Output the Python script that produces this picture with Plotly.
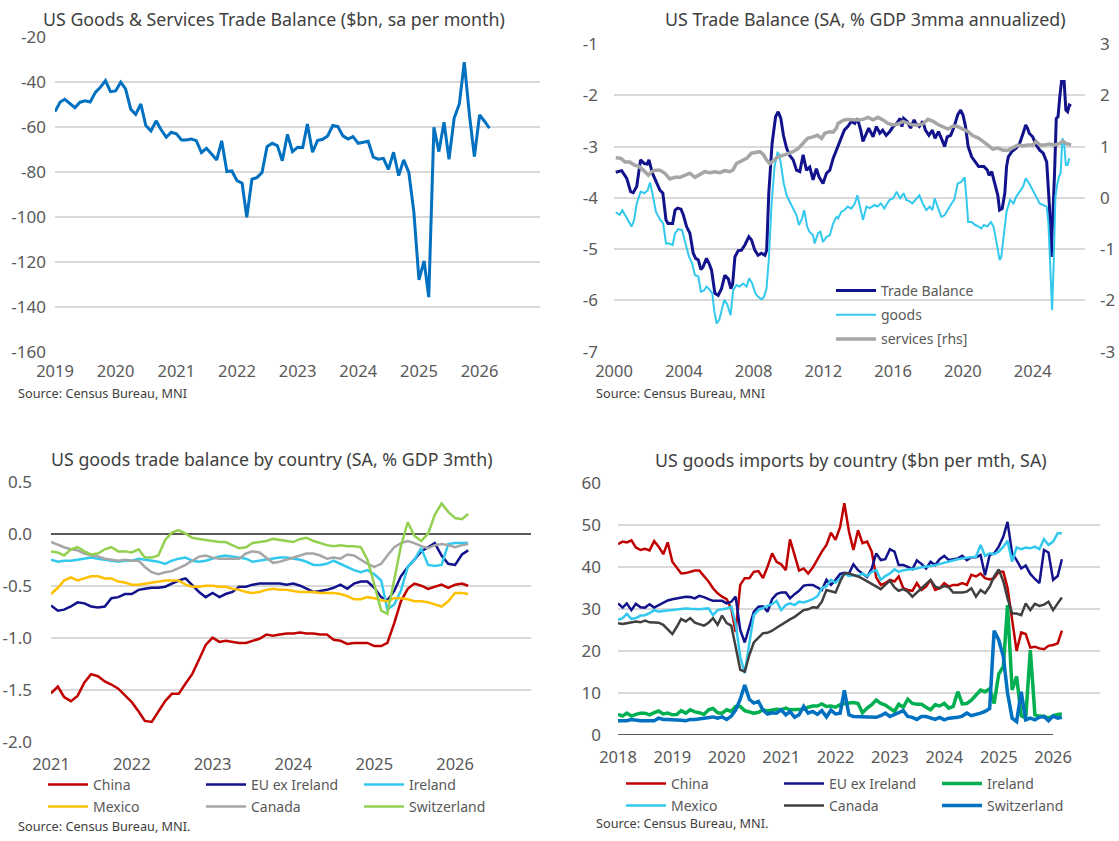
import plotly.graph_objects as go
import pandas as pd

W, H = 1119, 841
FONT = "Noto Sans"
TXT = "#595959"
TITLE_C = "#404040"
GRID = "#D9D9D9"

# ---------------- Panel 1: US goods & services trade balance ($bn) ----------------
p1_start = "2019-01-01"
p1_balance = [
    -53.1, -48.8, -47.6, -49.6, -51.3, -48.9, -48.3, -48.8, -44.5, -42.3,
    -39.3, -44.2, -43.9, -40.0, -43.0, -52.0, -54.3, -49.7, -59.3, -61.7,
    -57.2, -61.2, -64.5, -62.3, -63.0, -65.7, -65.7, -65.3, -66.0, -71.3,
    -69.4, -72.0, -74.6, -66.1, -79.8, -79.5, -83.8, -85.0, -100.1, -83.2,
    -82.5, -80.2, -68.7, -67.2, -68.2, -75.0, -63.2, -70.9, -69.0, -69.1,
    -58.6, -71.2, -66.0, -65.4, -63.9, -59.3, -59.8, -63.9, -65.3, -64.2,
    -67.2, -66.7, -66.3, -73.4, -74.3, -73.9, -78.8, -71.2, -81.6, -74.6,
    -80.2, -97.6, -128.0, -119.6, -135.7, -60.1, -70.9, -57.8, -74.3, -56.0,
    -49.7, -31.1, -54.6, -73.1, -54.6, -57.5, -60.5]
p1_yticks = [-160, -140, -120, -100, -80, -60, -40, -20]

# ---------------- Panel 2: trade balance % GDP (years since 2000, value) ----------------
tb_years = [0.1, 0.44, 0.73, 0.95, 1.1, 1.3, 1.52, 1.74, 1.9, 2.0, 2.2, 2.44, 2.63, 2.8, 2.98, 3.1,
            3.36, 3.5, 3.65, 3.84, 3.97, 4.16, 4.35, 4.54, 4.68, 4.83, 4.98, 5.1, 5.3, 5.45, 5.59,
            5.78, 5.97, 6.16, 6.35, 6.55, 6.7, 6.8, 6.93, 7.12, 7.31, 7.5, 7.73, 7.88, 8.07, 8.26,
            8.45, 8.65, 8.75, 8.87, 9.06, 9.26, 9.41, 9.56, 9.71, 9.89, 10.08, 10.27, 10.46, 10.65,
            10.84, 11.03, 11.22, 11.41, 11.6, 11.75, 11.98, 12.18, 12.37, 12.56, 12.75, 12.84, 13.03,
            13.2, 13.4, 13.6, 13.8, 13.95, 14.14, 14.27, 14.47, 14.6, 14.85, 15.04, 15.24, 15.4, 15.6,
            15.8, 16.0, 16.2, 16.4, 16.5, 16.6, 16.8, 17.0, 17.2, 17.3, 17.5, 17.7, 17.85, 18.05,
            18.25, 18.4, 18.6, 18.8, 18.95, 19.1, 19.3, 19.5, 19.7, 19.87, 20.0, 20.15, 20.3, 20.5,
            20.7, 20.9, 21.2, 21.4, 21.5, 21.65, 21.77, 21.9, 22.0, 22.1, 22.25, 22.4, 22.5, 22.6,
            22.8, 23.05, 23.25, 23.45, 23.6, 23.7, 23.8, 24.0, 24.2, 24.4, 24.6, 24.8, 24.96, 25.06,
            25.15, 25.25, 25.35, 25.45, 25.55, 25.65, 25.8, 25.9, 26.0, 26.1, 26.2]
tb_values = [-3.50, -3.47, -3.62, -3.88, -3.90, -3.78, -3.26, -3.33, -3.34, -3.26, -3.52, -3.72,
             -3.85, -3.91, -4.43, -4.50, -4.50, -4.24, -4.20, -4.22, -4.33, -4.56, -4.69, -5.08,
             -5.18, -5.21, -5.40, -5.35, -5.18, -5.28, -5.41, -5.86, -5.90, -5.77, -5.51, -5.58,
             -5.77, -5.68, -5.15, -5.03, -5.02, -4.92, -4.76, -4.82, -5.02, -5.12, -5.08, -5.12,
             -5.02, -3.91, -2.94, -2.42, -2.32, -2.45, -2.78, -3.03, -3.18, -3.26, -3.46, -3.49,
             -3.16, -3.46, -3.40, -3.65, -3.43, -3.59, -3.72, -3.52, -3.46, -3.23, -3.07, -2.97,
             -2.81, -2.68, -2.61, -2.51, -2.55, -2.45, -2.68, -2.90, -2.74, -2.64, -2.81, -2.61,
             -2.74, -2.68, -2.78, -2.71, -2.61, -2.55, -2.45, -2.61, -2.45, -2.51, -2.64, -2.48,
             -2.55, -2.61, -2.51, -2.68, -2.78, -2.68, -2.84, -2.71, -2.87, -3.00, -2.81, -2.78,
             -2.61, -2.38, -2.29, -2.38, -2.61, -3.00, -3.20, -3.30, -3.39, -3.39, -3.46, -3.56,
             -3.49, -3.65, -3.85, -3.95, -4.24, -4.21, -3.91, -3.39, -3.20, -3.10, -3.03, -2.94,
             -2.74, -2.58, -2.64, -2.74, -2.81, -2.97, -3.07, -3.13, -3.30, -4.18, -5.15, -4.50,
             -3.52, -2.45, -2.42, -2.03, -1.73, -1.73, -2.29, -2.32, -2.19, -2.21]

goods_years = [0.1, 0.32, 0.48, 0.73, 1.0, 1.15, 1.3, 1.53, 1.74, 1.93, 2.06, 2.2, 2.4, 2.63, 2.82,
               2.98, 3.15, 3.36, 3.5, 3.68, 3.9, 4.1, 4.3, 4.48, 4.64, 4.83, 4.98, 5.17, 5.3, 5.45,
               5.63, 5.74, 5.88, 6.03, 6.16, 6.32, 6.49, 6.68, 6.83, 7.02, 7.2, 7.4, 7.6, 7.75, 7.92,
               8.1, 8.26, 8.45, 8.6, 8.74, 8.87, 9.03, 9.2, 9.37, 9.45, 9.56, 9.73, 9.89, 10.08,
               10.27, 10.46, 10.6, 10.78, 10.9, 11.07, 11.2, 11.41, 11.5, 11.7, 11.83, 11.98, 12.18,
               12.37, 12.56, 12.75, 12.84, 13.03, 13.2, 13.4, 13.6, 13.8, 13.95, 14.14, 14.27, 14.47,
               14.65, 14.94, 15.1, 15.3, 15.5, 15.6, 15.8, 16.0, 16.2, 16.4, 16.6, 16.75, 16.95,
               17.1, 17.3, 17.5, 17.7, 17.9, 18.1, 18.25, 18.38, 18.6, 18.76, 18.95, 19.15, 19.35,
               19.5, 19.7, 19.9, 20.1, 20.2, 20.3, 20.5, 20.7, 20.9, 21.05, 21.2, 21.4, 21.6, 21.75,
               21.9, 22.0, 22.1, 22.2, 22.35, 22.5, 22.7, 22.9, 23.05, 23.25, 23.45, 23.6, 23.8,
               24.0, 24.2, 24.4, 24.6, 24.8, 24.9, 25.02, 25.11, 25.2, 25.3, 25.4, 25.5, 25.6, 25.7,
               25.8, 25.9, 26.0, 26.1]
goods_values = [-4.28, -4.33, -4.24, -4.40, -4.56, -4.43, -4.11, -3.88, -3.91, -3.85, -3.70, -3.91,
                -4.27, -4.42, -4.50, -4.89, -4.89, -4.92, -4.69, -4.61, -4.63, -4.89, -5.15, -5.28,
                -5.51, -5.53, -5.83, -5.80, -5.73, -5.78, -5.86, -6.19, -6.45, -6.38, -6.19, -5.99,
                -6.08, -6.29, -5.80, -5.70, -5.73, -5.67, -5.73, -5.57, -5.67, -5.86, -5.93, -5.98,
                -5.93, -5.77, -5.21, -4.11, -3.39, -3.12, -3.14, -3.33, -3.72, -3.95, -4.08, -4.21,
                -4.34, -4.53, -4.40, -4.24, -4.56, -4.66, -4.73, -4.89, -4.69, -4.66, -4.86, -4.76,
                -4.73, -4.50, -4.37, -4.40, -4.27, -4.24, -4.17, -4.21, -4.11, -3.95, -4.24, -4.43,
                -4.17, -4.20, -4.14, -4.17, -4.11, -4.21, -4.14, -4.04, -4.01, -3.88, -4.01, -3.91,
                -4.04, -4.07, -4.11, -4.04, -3.95, -4.11, -4.24, -4.17, -4.24, -4.01, -4.24, -4.37,
                -4.34, -4.21, -4.11, -4.04, -3.72, -3.69, -3.60, -4.00, -4.47, -4.47, -4.53, -4.56,
                -4.60, -4.53, -4.56, -4.47, -4.56, -4.82, -5.05, -5.21, -5.15, -4.76, -4.27, -4.04,
                -4.11, -3.98, -3.88, -3.78, -3.62, -3.72, -3.85, -3.98, -4.11, -4.14, -4.17, -4.50,
                -5.41, -6.19, -5.28, -3.98, -3.75, -3.59, -3.52, -2.84, -2.94, -3.36, -3.36, -3.23]

serv_years = [0.1, 0.4, 0.63, 0.9, 1.16, 1.4, 1.68, 1.97, 2.15, 2.35, 2.63, 2.92, 3.2, 3.5, 3.78,
              4.06, 4.35, 4.64, 4.92, 5.2, 5.5, 5.78, 6.07, 6.35, 6.64, 6.83, 7.02, 7.3, 7.6, 7.88,
              8.17, 8.36, 8.55, 8.74, 8.93, 9.12, 9.4, 9.7, 10.0, 10.27, 10.55, 10.84, 11.1, 11.4,
              11.66, 11.9, 12.08, 12.37, 12.56, 12.75, 12.84, 13.03, 13.2, 13.4, 13.7, 14.0, 14.27,
              14.56, 14.85, 15.13, 15.42, 15.7, 16.0, 16.28, 16.56, 16.85, 17.14, 17.4, 17.7, 17.99,
              18.3, 18.57, 18.85, 19.14, 19.43, 19.7, 20.0, 20.3, 20.57, 20.86, 21.15, 21.4, 21.72,
              22.0, 22.3, 22.6, 22.86, 23.15, 23.43, 23.72, 24.0, 24.2, 24.4, 24.68, 24.96, 25.25,
              25.55, 25.73, 25.9, 26.2]
serv_values = [0.78, 0.77, 0.70, 0.70, 0.64, 0.62, 0.54, 0.44, 0.51, 0.54, 0.54, 0.48, 0.37, 0.40,
               0.40, 0.44, 0.48, 0.40, 0.46, 0.51, 0.49, 0.51, 0.49, 0.53, 0.51, 0.55, 0.67, 0.72,
               0.77, 0.87, 0.88, 0.90, 0.85, 0.74, 0.67, 0.72, 0.80, 0.83, 0.87, 0.90, 0.96, 1.06,
               1.16, 1.19, 1.22, 1.16, 1.26, 1.29, 1.28, 1.36, 1.45, 1.49, 1.52, 1.53, 1.52, 1.52,
               1.53, 1.57, 1.52, 1.57, 1.52, 1.45, 1.42, 1.44, 1.49, 1.45, 1.42, 1.42, 1.44, 1.53,
               1.49, 1.43, 1.39, 1.34, 1.40, 1.39, 1.34, 1.29, 1.21, 1.17, 1.10, 1.03, 0.95, 0.97,
               0.93, 0.93, 0.98, 1.03, 1.01, 1.03, 1.03, 1.10, 1.03, 1.03, 1.05, 1.03, 1.06, 1.11,
               1.06, 1.03]
p2_left_ticks = [-7, -6, -5, -4, -3, -2, -1]
p2_right_ticks = [-3, -2, -1, 0, 1, 2, 3]

# ---------------- Panel 3: goods trade balance by country (% GDP) ----------------
p3_start = "2021-01-01"
p3_china = [-1.535, -1.47, -1.57, -1.61, -1.56, -1.43, -1.35, -1.37, -1.42, -1.45,
            -1.49, -1.55, -1.62, -1.71, -1.80, -1.81, -1.71, -1.61, -1.54, -1.54,
            -1.44, -1.35, -1.21, -1.07, -1.00, -1.04, -1.03, -1.04, -1.05, -1.05,
            -1.03, -1.01, -0.97, -0.98, -0.97, -0.96, -0.96, -0.95, -0.96, -0.96,
            -0.97, -0.97, -1.02, -1.03, -1.06, -1.05, -1.05, -1.05, -1.08, -1.08,
            -1.05, -0.86, -0.65, -0.53, -0.48, -0.50, -0.53, -0.51, -0.49, -0.52,
            -0.49, -0.48, -0.50]
p3_eu = [-0.69, -0.74, -0.73, -0.70, -0.66, -0.67, -0.70, -0.71, -0.70, -0.62,
         -0.61, -0.58, -0.58, -0.54, -0.53, -0.52, -0.52, -0.51, -0.48, -0.45,
         -0.43, -0.49, -0.56, -0.61, -0.57, -0.61, -0.58, -0.56, -0.51, -0.51,
         -0.49, -0.48, -0.48, -0.48, -0.48, -0.49, -0.48, -0.50, -0.53, -0.56,
         -0.55, -0.54, -0.52, -0.49, -0.53, -0.48, -0.46, -0.46, -0.52, -0.61,
         -0.64, -0.55, -0.41, -0.32, -0.25, -0.17, -0.13, -0.09, -0.21, -0.29,
         -0.30, -0.20, -0.16]
p3_ireland = [-0.25, -0.27, -0.26, -0.26, -0.25, -0.24, -0.23, -0.24, -0.25, -0.26,
              -0.27, -0.26, -0.26, -0.24, -0.25, -0.26, -0.27, -0.29, -0.26, -0.24,
              -0.23, -0.26, -0.27, -0.26, -0.24, -0.22, -0.21, -0.22, -0.23, -0.24,
              -0.27, -0.26, -0.25, -0.24, -0.23, -0.23, -0.24, -0.25, -0.27, -0.30,
              -0.30, -0.29, -0.26, -0.29, -0.32, -0.35, -0.37, -0.35, -0.39, -0.45,
              -0.73, -0.68, -0.55, -0.32, -0.25, -0.14, -0.30, -0.31, -0.30, -0.10,
              -0.09, -0.09, -0.09]
p3_mexico = [-0.58, -0.52, -0.45, -0.42, -0.45, -0.43, -0.41, -0.41, -0.43, -0.43,
             -0.46, -0.47, -0.49, -0.49, -0.48, -0.47, -0.46, -0.45, -0.45, -0.45,
             -0.49, -0.51, -0.51, -0.50, -0.50, -0.51, -0.51, -0.53, -0.54, -0.56,
             -0.57, -0.56, -0.54, -0.53, -0.54, -0.54, -0.55, -0.56, -0.56, -0.56,
             -0.57, -0.57, -0.57, -0.58, -0.60, -0.63, -0.63, -0.61, -0.62, -0.64,
             -0.65, -0.62, -0.62, -0.63, -0.65, -0.65, -0.66, -0.68, -0.70, -0.65,
             -0.57, -0.57, -0.58]
p3_canada = [-0.08, -0.11, -0.13, -0.15, -0.16, -0.19, -0.21, -0.22, -0.24, -0.25,
             -0.26, -0.25, -0.26, -0.26, -0.32, -0.37, -0.39, -0.37, -0.36, -0.33,
             -0.30, -0.26, -0.22, -0.21, -0.23, -0.24, -0.24, -0.24, -0.24, -0.19,
             -0.17, -0.18, -0.23, -0.28, -0.27, -0.25, -0.23, -0.21, -0.19, -0.19,
             -0.21, -0.24, -0.23, -0.24, -0.20, -0.21, -0.25, -0.29, -0.32, -0.29,
             -0.21, -0.13, -0.09, -0.07, -0.09, -0.12, -0.14, -0.11, -0.10, -0.11,
             -0.13, -0.11, -0.10]
p3_switz = [-0.17, -0.18, -0.21, -0.15, -0.13, -0.17, -0.20, -0.19, -0.15, -0.13,
            -0.17, -0.17, -0.18, -0.15, -0.23, -0.23, -0.21, -0.06, 0.01, 0.035,
            0.00, -0.04, -0.05, -0.06, -0.07, -0.08, -0.08, -0.11, -0.14, -0.13,
            -0.09, -0.08, -0.07, -0.05, -0.06, -0.07, -0.08, -0.05, -0.04, -0.07,
            -0.09, -0.11, -0.12, -0.11, -0.12, -0.12, -0.13, -0.25, -0.49, -0.74,
            -0.77, -0.42, -0.12, 0.11, -0.02, -0.07, 0.00, 0.18, 0.29, 0.21,
            0.15, 0.14, 0.19]
p3_yticks = [-2.0, -1.5, -1.0, -0.5, 0.0, 0.5]

# ---------------- Panel 4: goods imports by country ($bn) ----------------
p4_start = "2018-01-01"
p4_axis_end = "2026-01-01"
p4_china = [45.4, 46.0, 45.8, 46.3, 44.6, 44.0, 44.3, 43.9, 46.1, 44.8,
            43.0, 45.8, 41.2, 39.6, 38.4, 38.5, 38.8, 39.1, 39.1, 37.8,
            36.5, 34.9, 33.7, 32.9, 32.3, 30.0, 24.5, 35.7, 37.3, 37.3,
            38.8, 39.0, 37.3, 40.0, 43.2, 41.2, 40.6, 39.2, 46.5, 42.8,
            39.1, 39.6, 38.4, 39.8, 41.8, 43.6, 45.2, 48.1, 46.4, 49.5,
            55.1, 48.4, 44.0, 48.7, 45.6, 46.0, 43.6, 37.5, 35.7, 36.1,
            36.9, 36.5, 37.7, 34.9, 34.5, 34.3, 36.1, 34.5, 35.3, 36.9,
            34.5, 34.9, 36.1, 35.3, 35.7, 35.7, 36.1, 35.7, 38.1, 37.7,
            38.4, 37.3, 37.0, 37.3, 38.8, 38.8, 35.0, 27.4, 20.0, 24.4,
            24.0, 20.8, 21.0, 20.6, 20.4, 21.2, 21.4, 21.8, 24.8]
p4_eu = [31.3, 30.3, 31.3, 29.7, 31.2, 30.4, 30.3, 31.1, 30.3, 30.9,
         31.5, 32.0, 32.3, 32.5, 32.8, 32.9, 32.8, 32.5, 33.1, 32.8,
         32.3, 31.9, 31.9, 31.9, 31.3, 31.7, 32.9, 25.0, 22.0, 25.8,
         29.3, 30.5, 30.6, 29.3, 32.3, 33.5, 33.9, 33.9, 32.5, 33.5,
         34.3, 35.5, 35.7, 35.7, 35.1, 34.5, 36.9, 35.7, 36.9, 38.3,
         38.6, 38.4, 40.6, 39.2, 38.4, 37.6, 39.6, 43.2, 41.6, 41.8,
         44.2, 43.6, 40.4, 40.4, 40.0, 39.4, 41.5, 40.7, 39.6, 41.2,
         40.4, 41.8, 42.6, 41.6, 41.8, 42.0, 42.6, 41.6, 42.3, 42.3,
         42.8, 38.0, 42.8, 43.2, 44.8, 47.2, 50.7, 43.2, 41.6, 39.6,
         40.3, 38.3, 37.1, 36.1, 44.0, 43.4, 36.9, 37.8, 41.8]
p4_ireland = [4.9, 4.5, 5.2, 4.5, 4.9, 5.2, 5.2, 4.8, 5.3, 5.7,
              5.0, 5.2, 4.8, 4.9, 5.8, 5.2, 6.0, 5.5, 5.3, 4.9,
              6.0, 6.3, 5.3, 5.2, 6.0, 5.6, 6.8, 6.8, 5.8, 5.4,
              5.2, 5.4, 6.0, 5.7, 6.0, 6.1, 6.0, 6.4, 6.0, 6.1,
              6.0, 6.1, 6.6, 6.9, 6.9, 7.4, 6.8, 6.9, 6.6, 7.2,
              7.5, 7.7, 7.7, 7.5, 5.3, 6.4, 7.2, 8.3, 7.5, 7.1,
              6.4, 5.6, 7.3, 6.6, 8.5, 7.5, 7.3, 7.3, 6.6, 6.0,
              7.2, 6.9, 7.5, 6.4, 6.8, 10.3, 7.4, 7.5, 8.3, 9.5,
              10.7, 10.3, 11.0, 7.5, 14.5, 16.3, 30.9, 10.7, 13.9, 4.6,
              4.0, 20.2, 4.8, 4.5, 4.4, 4.0, 4.6, 4.9, 5.0]
p4_mexico = [27.4, 27.8, 28.8, 27.6, 27.8, 28.4, 28.5, 29.0, 29.7, 29.3,
             29.5, 29.6, 29.7, 29.9, 30.0, 30.1, 30.0, 29.9, 29.9, 30.0,
             30.1, 28.5, 29.7, 29.9, 30.1, 30.5, 26.5, 18.6, 14.7, 21.8,
             28.5, 29.7, 30.3, 30.7, 31.1, 31.9, 29.7, 30.9, 31.3, 30.9,
             31.7, 31.5, 31.9, 32.3, 33.0, 34.9, 35.4, 36.9, 36.2, 37.3,
             38.3, 37.8, 38.0, 37.8, 38.4, 37.8, 38.8, 39.2, 36.9, 37.8,
             38.4, 39.4, 38.8, 39.2, 39.3, 39.5, 39.6, 39.9, 40.0, 40.2,
             40.4, 40.7, 41.0, 41.2, 41.5, 41.8, 42.0, 42.2, 42.3, 42.4,
             45.2, 42.6, 43.2, 43.0, 43.6, 44.8, 46.2, 41.2, 44.6, 44.2,
             44.6, 44.4, 44.8, 44.2, 46.6, 45.2, 46.0, 48.0, 48.0]
p4_canada = [26.6, 26.4, 26.6, 26.8, 27.0, 26.8, 27.2, 26.8, 26.7, 26.7,
             26.2, 25.1, 24.0, 25.8, 27.6, 27.0, 27.8, 26.7, 26.4, 26.0,
             26.7, 27.8, 26.2, 28.4, 26.6, 26.0, 21.0, 15.5, 15.1, 19.0,
             22.0, 23.2, 24.2, 24.3, 24.8, 25.5, 26.2, 27.0, 27.5, 28.1,
             28.9, 29.7, 29.9, 30.4, 30.3, 31.7, 34.5, 34.2, 33.9, 36.5,
             38.4, 38.4, 38.1, 37.7, 37.2, 36.6, 36.0, 35.3, 34.7, 35.7,
             36.7, 35.1, 34.3, 34.7, 34.1, 32.9, 33.9, 34.9, 36.1, 36.9,
             35.3, 34.9, 35.4, 35.1, 33.9, 33.9, 33.9, 34.1, 34.9, 32.9,
             34.5, 33.7, 35.3, 37.7, 39.4, 36.5, 32.5, 28.9, 28.9, 28.5,
             31.3, 29.7, 31.2, 30.7, 31.0, 31.7, 29.7, 31.3, 32.7]
p4_switz = [3.4, 3.4, 3.4, 3.7, 3.5, 3.4, 3.4, 3.4, 3.4, 4.0,
            3.7, 3.7, 3.7, 3.6, 3.5, 3.4, 3.7, 3.7, 3.8, 4.0,
            4.2, 4.3, 4.0, 4.3, 3.7, 4.5, 5.9, 8.5, 11.9, 8.5,
            7.6, 8.0, 5.9, 5.0, 5.3, 5.2, 6.0, 4.8, 5.6, 4.2,
            4.8, 6.8, 5.2, 5.6, 4.9, 5.8, 4.3, 5.9, 5.0, 5.2,
            10.6, 4.8, 4.4, 4.4, 4.4, 4.2, 4.2, 4.2, 4.6, 5.2,
            4.4, 4.9, 5.3, 5.8, 4.4, 4.2, 3.7, 4.4, 4.4, 4.0,
            3.7, 4.2, 3.6, 4.0, 4.0, 4.2, 4.5, 5.2, 4.6, 4.8,
            5.2, 5.6, 6.3, 24.8, 22.6, 18.6, 10.0, 4.0, 3.2, 10.3,
            3.6, 4.0, 3.6, 4.2, 4.4, 3.4, 4.5, 4.0, 4.2]
p4_yticks = [0, 10, 20, 30, 40, 50, 60]


# ---------------- helpers ----------------
def fx(x):
    return x / W


def fy(y):
    return 1 - y / H


def dec_dates(base_year, offsets):
    out = []
    for t in offsets:
        y = base_year + int(t)
        s = pd.Timestamp(year=y, month=1, day=1)
        e = pd.Timestamp(year=y + 1, month=1, day=1)
        out.append(s + (e - s) * (t - int(t)))
    return out


def fmt(v, nd=0):
    return f"{v:.{nd}f}"


ytickfont = dict(family=FONT, size=17, color=TXT)
xtickfont = dict(family=FONT, size=16.5, color=TXT)


def yax(top, bottom, rng, vals, nd=0, standoff=8, **kw):
    d = dict(domain=[fy(bottom), fy(top)], range=rng, tickvals=vals,
             ticktext=[fmt(v, nd) for v in vals], showgrid=True, gridcolor=GRID,
             gridwidth=2, zeroline=False, showline=False, ticks="", tickfont=ytickfont,
             ticklabelstandoff=standoff, fixedrange=True)
    d.update(kw)
    return d


def xax(left, right, rng, dtick, tick0, standoff=8, **kw):
    d = dict(domain=[fx(left), fx(right)], range=rng, type="date", dtick=dtick,
             tick0=tick0, tickformat="%Y", showgrid=False, zeroline=False, showline=False,
             ticks="", tickfont=xtickfont, ticklabelstandoff=standoff, fixedrange=True)
    d.update(kw)
    return d


fig = go.Figure()

# Panel 1
p1_dates = pd.date_range(p1_start, periods=len(p1_balance), freq="MS")
fig.add_trace(go.Scatter(x=p1_dates, y=p1_balance, mode="lines", xaxis="x", yaxis="y",
                         line=dict(color="#0070C0", width=3), showlegend=False))

# Panel 2
fig.add_trace(go.Scatter(x=dec_dates(2000, tb_years), y=tb_values, mode="lines", name="Trade Balance",
                         xaxis="x2", yaxis="y2", line=dict(color="#12128C", width=3),
                         legend="legend2", legendgroup="a"))
fig.add_trace(go.Scatter(x=dec_dates(2000, goods_years), y=goods_values, mode="lines", name="goods",
                         xaxis="x2", yaxis="y2", line=dict(color="#33C9EE", width=2),
                         legend="legend2", legendgroup="b"))
fig.add_trace(go.Scatter(x=dec_dates(2000, serv_years), y=serv_values, mode="lines", name="services [rhs]",
                         xaxis="x2", yaxis="y5", line=dict(color="#A6A6A6", width=3.5),
                         legend="legend2", legendgroup="c"))

# Panel 3
p3_dates = pd.date_range(p3_start, periods=len(p3_china), freq="MS")
p3_series = [("China", p3_china, "#C00000", "legend3"),
             ("EU ex Ireland", p3_eu, "#12128C", "legend3"),
             ("Ireland", p3_ireland, "#33C9EE", "legend3"),
             ("Mexico", p3_mexico, "#FFC000", "legend4"),
             ("Canada", p3_canada, "#A6A6A6", "legend4"),
             ("Switzerland", p3_switz, "#92D050", "legend4")]
for name, vals, col, lg in p3_series:
    fig.add_trace(go.Scatter(x=p3_dates, y=vals, mode="lines", name=name, xaxis="x3", yaxis="y3",
                             line=dict(color=col, width=2.5), legend=lg))

# Panel 4
p4_dates = pd.date_range(p4_start, periods=len(p4_china), freq="MS")
fig.add_trace(go.Scatter(x=[p4_dates[0], pd.Timestamp(p4_axis_end)], y=[0, 0], mode="lines",
                         xaxis="x4", yaxis="y4", line=dict(color="#595959", width=2),
                         showlegend=False, hoverinfo="skip"))
p4_series = [("China", p4_china, "#C00000", 2.5, "legend5"),
             ("EU ex Ireland", p4_eu, "#12128C", 2.5, "legend5"),
             ("Ireland", p4_ireland, "#00B050", 3.5, "legend5"),
             ("Mexico", p4_mexico, "#33C9EE", 2.5, "legend6"),
             ("Canada", p4_canada, "#404040", 2.5, "legend6"),
             ("Switzerland", p4_switz, "#0070C0", 3.5, "legend6")]
for name, vals, col, w, lg in p4_series:
    fig.add_trace(go.Scatter(x=p4_dates, y=vals, mode="lines", name=name, xaxis="x4", yaxis="y4",
                             line=dict(color=col, width=w), legend=lg))

legfont = dict(family=FONT, size=14, color=TXT)


def hleg(x, y):
    return dict(orientation="h", x=fx(x), y=fy(y), xanchor="left", yanchor="middle",
                bgcolor="rgba(0,0,0,0)", font=legfont, entrywidth=103, itemwidth=40,
                entrywidthmode="pixels", itemclick=False, itemdoubleclick=False)


annotations = []


def text(x, y, s, size, color, anchor="center"):
    annotations.append(dict(x=fx(x), y=fy(y), xref="paper", yref="paper", text=s, showarrow=False,
                            xanchor=anchor, yanchor="middle",
                            font=dict(family=FONT, size=size, color=color)))


text(274, 19, "US Goods &amp; Services Trade Balance ($bn, sa per month)", 17.8, TITLE_C)
text(865, 19, "US Trade Balance (SA, % GDP 3mma annualized)", 17.8, TITLE_C)
text(272, 459, "US goods trade balance by country (SA, % GDP 3mth)", 17.8, TITLE_C)
text(851, 460, "US goods imports by country ($bn per mth, SA)", 17.8, TITLE_C)
text(16, 393, "Source: Census Bureau, MNI", 12.7, TITLE_C, "left")
text(594, 393, "Source: Census Bureau, MNI", 12.7, TITLE_C, "left")
text(16, 826, "Source: Census Bureau, MNI.", 12.7, TITLE_C, "left")
text(594, 823, "Source: Census Bureau, MNI.", 12.7, TITLE_C, "left")

fig.update_layout(
    width=W, height=H, margin=dict(l=0, r=0, t=0, b=0, autoexpand=False),
    paper_bgcolor="white", plot_bgcolor="white",
    font=dict(family=FONT, color=TXT),
    annotations=annotations,
    xaxis=xax(55, 540, ["2019-01-01", "2026-12-31"], "M12", "2019-01-01", standoff=8, anchor="y"),
    yaxis=yax(37.3, 351.7, [-160, -20], p1_yticks, standoff=8, anchor="x"),
    xaxis2=xax(614, 1085, ["2000-01-01", "2026-12-31"], "M48", "2000-01-01", standoff=8, anchor="y2"),
    yaxis2=yax(44, 351.7, [-7, -1], p2_left_ticks, standoff=15, anchor="x2"),
    yaxis5=dict(overlaying="y2", side="right", anchor="x2", range=[-3, 3], tickvals=p2_right_ticks,
                ticktext=[fmt(v) for v in p2_right_ticks], showgrid=False, zeroline=False,
                showline=False, ticks="", tickfont=ytickfont, ticklabelstandoff=14, fixedrange=True),
    xaxis3=xax(51, 531, ["2021-01-01", "2026-12-10"], "M12", "2021-01-01", standoff=11, anchor="y3"),
    yaxis3=yax(481.7, 741.7, [-2.0, 0.5], p3_yticks, nd=1, standoff=18, anchor="x3",
               zeroline=True, zerolinecolor="#595959", zerolinewidth=2),
    xaxis4=xax(618, 1100, ["2018-01-01", "2026-11-12"], "M12", "2018-01-01", standoff=10, anchor="y4"),
    yaxis4=yax(482.7, 735, [0, 60], p4_yticks, standoff=16, anchor="x4"),
    legend2=dict(x=fx(831), y=fy(275), xanchor="left", yanchor="top", bgcolor="rgba(0,0,0,0)",
                 font=legfont, tracegroupgap=3, itemwidth=40, itemclick=False, itemdoubleclick=False),
    legend3=hleg(43, 785),
    legend4=hleg(43, 807),
    legend5=hleg(621, 784),
    legend6=hleg(621, 806),
)

fig.write_html("out.html")
